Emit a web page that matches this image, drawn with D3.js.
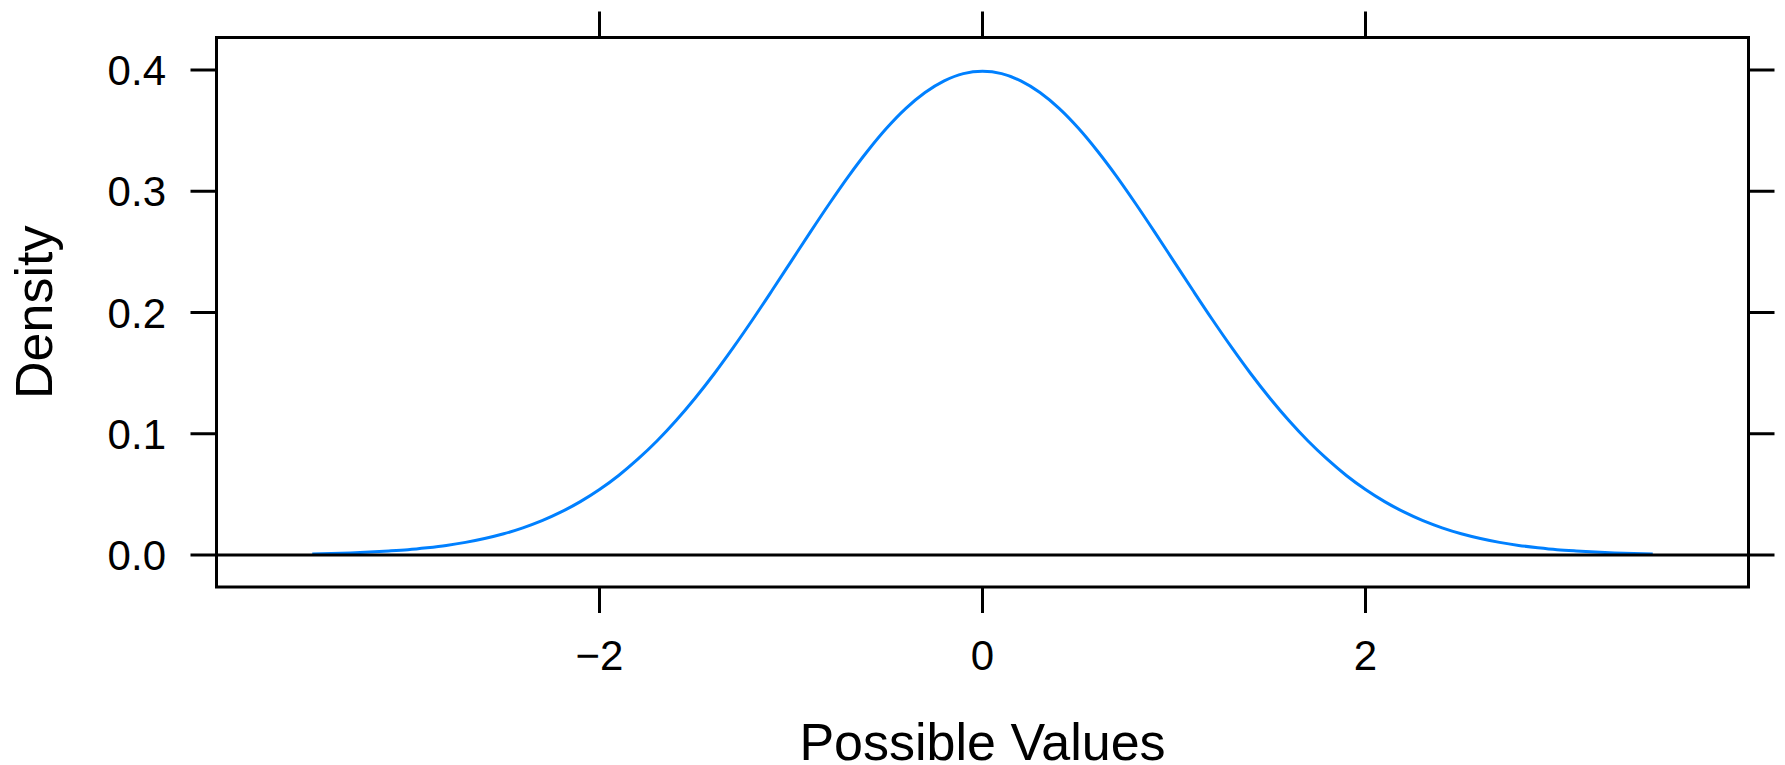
<!DOCTYPE html>
<html>
<head>
<meta charset="utf-8">
<script src="https://cdn.jsdelivr.net/npm/d3@7"></script>
<style>
  html, body { margin: 0; padding: 0; background: #fff; }
  svg { display: block; }
  text { font-family: "Liberation Sans", Arial, Helvetica, sans-serif; fill: #000; }
</style>
</head>
<body>
<svg id="chart" width="1785" height="765"></svg>
<script>
// ---- data ----
const xValues = [
  -3.5,-3.4,-3.3,-3.2,-3.1,-3.0,-2.9,-2.8,-2.7,-2.6,-2.5,-2.4,-2.3,-2.2,-2.1,-2.0,
  -1.9,-1.8,-1.7,-1.6,-1.5,-1.4,-1.3,-1.2,-1.1,-1.0,-0.9,-0.8,-0.7,-0.6,-0.5,-0.4,
  -0.3,-0.2,-0.1,0.0,0.1,0.2,0.3,0.4,0.5,0.6,0.7,0.8,0.9,1.0,1.1,1.2,1.3,1.4,1.5,
  1.6,1.7,1.8,1.9,2.0,2.1,2.2,2.3,2.4,2.5,2.6,2.7,2.8,2.9,3.0,3.1,3.2,3.3,3.4,3.5
];
const densityValues = [
  0.0009,0.0012,0.0017,0.0024,0.0033,0.0044,0.0060,0.0079,0.0104,0.0136,0.0175,0.0224,
  0.0283,0.0355,0.0440,0.0540,0.0656,0.0790,0.0940,0.1109,0.1295,0.1497,0.1714,0.1942,
  0.2179,0.2420,0.2661,0.2897,0.3123,0.3332,0.3521,0.3683,0.3814,0.3910,0.3970,0.3989,
  0.3970,0.3910,0.3814,0.3683,0.3521,0.3332,0.3123,0.2897,0.2661,0.2420,0.2179,0.1942,
  0.1714,0.1497,0.1295,0.1109,0.0940,0.0790,0.0656,0.0540,0.0440,0.0355,0.0283,0.0224,
  0.0175,0.0136,0.0104,0.0079,0.0060,0.0044,0.0033,0.0024,0.0017,0.0012,0.0009
];
const xTicks = [-2, 0, 2];
const xTickLabels = ["\u22122", "0", "2"];
const yTicks = [0.0, 0.1, 0.2, 0.3, 0.4];
const yTickLabels = ["0.0", "0.1", "0.2", "0.3", "0.4"];
const xTitle = "Possible Values";
const yTitle = "Density";

// ---- layout ----
(function () {
  const svg = d3.select("#chart");
  const pLeft = 216.5, pRight = 1748.5, pTop = 37.5, pBottom = 587;
  const x = d3.scaleLinear().domain([-4, 4]).range([pLeft, pRight]);
  const y = d3.scaleLinear().domain([0, 0.4]).range([555, 70]);
  const tickLen = 26;
  const fontSize = 42;
  const titleSize = 52;

  const data = xValues.map((v, i) => ({ x: v, y: densityValues[i] }));

  // curve
  svg.append("path")
    .datum(data)
    .attr("fill", "none")
    .attr("stroke", "#0080ff")
    .attr("stroke-width", 3)
    .attr("d", d3.line().x(d => x(d.x)).y(d => y(d.y)).curve(d3.curveMonotoneX));

  // zero reference line
  svg.append("line")
    .attr("x1", pLeft).attr("x2", pRight)
    .attr("y1", y(0)).attr("y2", y(0))
    .attr("stroke", "#000").attr("stroke-width", 3);

  // frame
  svg.append("rect")
    .attr("x", pLeft).attr("y", pTop)
    .attr("width", pRight - pLeft).attr("height", pBottom - pTop)
    .attr("fill", "none").attr("stroke", "#000").attr("stroke-width", 3);

  // bottom axis ticks + labels
  const bx = svg.append("g");
  bx.selectAll("line").data(xTicks).join("line")
    .attr("x1", d => x(d)).attr("x2", d => x(d))
    .attr("y1", pBottom).attr("y2", pBottom + tickLen)
    .attr("stroke", "#000").attr("stroke-width", 3);
  bx.selectAll("text").data(xTicks).join("text")
    .attr("x", d => x(d)).attr("y", 670)
    .attr("text-anchor", "middle")
    .attr("font-size", fontSize)
    .text((d, i) => xTickLabels[i]);

  // top axis ticks
  svg.append("g").selectAll("line").data(xTicks).join("line")
    .attr("x1", d => x(d)).attr("x2", d => x(d))
    .attr("y1", pTop).attr("y2", pTop - tickLen)
    .attr("stroke", "#000").attr("stroke-width", 3);

  // left axis ticks + labels
  const ly = svg.append("g");
  ly.selectAll("line").data(yTicks).join("line")
    .attr("x1", pLeft - tickLen).attr("x2", pLeft)
    .attr("y1", d => y(d)).attr("y2", d => y(d))
    .attr("stroke", "#000").attr("stroke-width", 3);
  ly.selectAll("text").data(yTicks).join("text")
    .attr("x", 166).attr("y", d => y(d) + 15)
    .attr("text-anchor", "end")
    .attr("font-size", fontSize)
    .text((d, i) => yTickLabels[i]);

  // right axis ticks
  svg.append("g").selectAll("line").data(yTicks).join("line")
    .attr("x1", pRight).attr("x2", pRight + tickLen)
    .attr("y1", d => y(d)).attr("y2", d => y(d))
    .attr("stroke", "#000").attr("stroke-width", 3);

  // axis titles
  svg.append("text")
    .attr("x", (pLeft + pRight) / 2).attr("y", 760)
    .attr("text-anchor", "middle")
    .attr("font-size", titleSize)
    .text(xTitle);

  svg.append("text")
    .attr("transform", `translate(52, ${(pTop + pBottom) / 2}) rotate(-90)`)
    .attr("text-anchor", "middle")
    .attr("font-size", titleSize)
    .text(yTitle);
})();
</script>
</body>
</html>
